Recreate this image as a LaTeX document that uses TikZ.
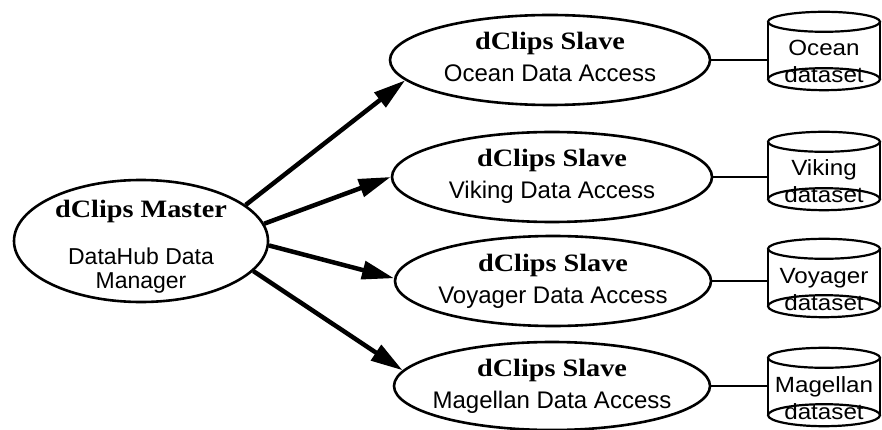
\documentclass[tikz,border=0pt]{standalone}
\usepackage{fontspec}
\setmainfont{Liberation Sans}
\newfontfamily\titlefont[FakeStretch=1.13]{Liberation Serif}
\newfontfamily\cylfont[FakeStretch=1.1]{Liberation Sans}
\usetikzlibrary{shapes.geometric,arrows.meta}
\tikzset{
  ell/.style={draw, ellipse, line width=2.6pt, inner sep=0pt},
  ttext/.style={anchor=base, inner sep=0pt, font=\titlefont\bfseries\fontsize{25}{26}\selectfont},
  stext/.style={anchor=base, inner sep=0pt, font=\fontsize{24}{25}\selectfont},
  mtext/.style={anchor=base, inner sep=0pt, font=\fontsize{23}{24}\selectfont},
  cylbody/.style={rectangle, inner sep=0pt, minimum width=112pt, minimum height=57pt},
  cylline/.style={line width=2.2pt},
  ctext/.style={anchor=base, inner sep=0pt, font=\cylfont\fontsize{22}{24}\selectfont},
  arr/.style={line width=4.5pt, -{Triangle[length=32pt,width=18pt]}},
  link/.style={line width=2.2pt}
}
\begin{document}
\begin{tikzpicture}[x=1pt,y=-1pt]
\useasboundingbox (0,0) rectangle (882,430);
% master
\node[ell, minimum width=254pt, minimum height=122pt] (master) at (141,241) {};
\node[ttext] (mtitle) at (141,218) {dClips Master};
\node[mtext] (mline1) at (141,264) {DataHub Data};
\node[mtext] (mline2) at (141,288) {Manager};
% slaves
\node[ell, minimum width=320pt, minimum height=90pt] (ocean) at (550,60) {};
\node[ttext] (otitle) at (550,50) {dClips Slave};
\node[stext] (osub) at (550,82) {Ocean Data Access};
\node[ell, minimum width=320pt, minimum height=90pt] (viking) at (552,177) {};
\node[ttext] (vtitle) at (552,167) {dClips Slave};
\node[stext] (vsub) at (552,199) {Viking Data Access};
\node[ell, minimum width=316pt, minimum height=90pt] (voyager) at (553,281) {};
\node[ttext] (ytitle) at (553,271) {dClips Slave};
\node[stext] (ysub) at (553,303) {Voyager Data Access};
\node[ell, minimum width=316pt, minimum height=88pt] (magellan) at (552,386) {};
\node[ttext] (mgtitle) at (552,376) {dClips Slave};
\node[stext] (mgsub) at (552,408) {Magellan Data Access};
% cylinders: name / top centre y / first text line / second line
\foreach \n/\t/\w in {ocyl/22/Ocean, vcyl/142/Viking, ycyl/249/Voyager, mcyl/358/Magellan}{
  \node[cylbody] (\n) at (824,{\t+28.5}) {};
  \node[ctext] (\n-a) at (824,{\t+34}) {\w};
  \node[ctext] (\n-b) at (824,{\t+61}) {dataset};
  \draw[cylline] (\n.north west) -- (\n.south west) (\n.north east) -- (\n.south east);
  \draw[cylline] (\n.north) ellipse (56pt and 10pt);
  \draw[cylline] (\n.south) ellipse (56pt and 11pt);
}
% arrows
\draw[arr] (master.19) -- (ocean.188);
\draw[arr] (master.8) -- (viking.180);
\draw[arr] (master.358) -- (voyager.179);
\draw[arr] (master.345) -- (magellan.174);
% links
\draw[link] (ocean.east) -- (ocean.east -| ocyl.west);
\draw[link] (viking.east) -- (viking.east -| vcyl.west);
\draw[link] (voyager.east) -- (voyager.east -| ycyl.west);
\draw[link] (magellan.east) -- (magellan.east -| mcyl.west);
\end{tikzpicture}
\end{document}
